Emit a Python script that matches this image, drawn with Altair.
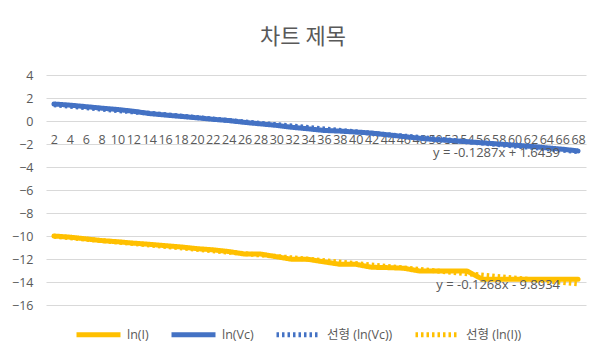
import altair as alt
import pandas as pd

# category labels on the horizontal axis
time_labels = [2, 4, 6, 8, 10, 12, 14, 16, 18, 20, 22, 24, 26, 28, 30, 32, 34,
               36, 38, 40, 42, 44, 46, 48, 50, 52, 54, 56, 58, 60, 62, 64, 66, 68]

# series values
ln_i = [-10.0, -10.1, -10.25, -10.4, -10.5, -10.62, -10.72, -10.84, -10.95, -11.1,
        -11.2, -11.35, -11.57, -11.57, -11.8, -12.03, -12.03, -12.25, -12.46, -12.46,
        -12.72, -12.75, -12.8, -13.04, -13.04, -13.04, -13.04, -13.77, -13.77, -13.77,
        -13.77, -13.77, -13.77, -13.77]
ln_vc = [1.48, 1.38, 1.25, 1.12, 1.0, 0.85, 0.65, 0.52, 0.4, 0.28,
         0.15, 0.04, -0.12, -0.25, -0.38, -0.55, -0.68, -0.82, -0.88, -0.96,
         -1.05, -1.2, -1.35, -1.5, -1.62, -1.7, -1.8, -1.9, -2.0, -2.1,
         -2.2, -2.33, -2.45, -2.6]

series_names = ["ln(I)", "ln(Vc)"]
trend_equations = ["y = -0.1268x - 9.8934", "y = -0.1287x + 1.6439"]
legend_order = ["ln(I)", "ln(Vc)", "선형 (ln(Vc))", "선형 (ln(I))"]
legend_colors = ["#FFC000", "#4472C4", "#4472C4", "#FFC000"]
y_ticks = [4, 2, 0, -2, -4, -6, -8, -10, -12, -14, -16]
title_text = "차트 제목"

rows = []
for name, eq, vals in zip(series_names, trend_equations, [ln_i, ln_vc]):
    for t, v in zip(time_labels, vals):
        rows.append({"t": t, "v": v, "series": name, "eq": eq})
df = pd.DataFrame(rows)

FONT = "Open Sans, Noto Sans CJK KR"
TXT = "#595959"
GRID = "#D9D9D9"

x_enc = alt.X(
    "t:Q",
    scale=alt.Scale(domain=[1, 69], nice=False, zero=False),
    axis=alt.Axis(values=time_labels, tickCount=len(time_labels), offset=-184,
                  domain=False, ticks=False, grid=False, labelPadding=12, title=None,
                  labelFlush=False, labelOverlap=False, labelFontSize=12.5,
                  labelColor=TXT, labelFont=FONT),
)
y_enc = alt.Y(
    "v:Q",
    scale=alt.Scale(domain=[-16, 4], nice=False),
    axis=alt.Axis(values=y_ticks, tickCount=len(y_ticks), domain=False, ticks=False,
                  grid=True, gridColor=GRID, gridWidth=1, labelPadding=13, title=None,
                  labelOverlap=False, labelFontSize=12.5, labelColor=TXT, labelFont=FONT),
)
color_enc = alt.Color("name:N", scale=alt.Scale(domain=legend_order, range=legend_colors), title=None)
dash_enc = alt.StrokeDash("name:N", scale=alt.Scale(domain=legend_order,
                          range=[[1, 0], [1, 0], [2.5, 3], [2.5, 3]]), title=None)
width_enc = alt.StrokeWidth("name:N", scale=alt.Scale(domain=legend_order,
                            range=[5, 5, 2.5, 2.5]), title=None)

base = alt.Chart(df)

lines = base.mark_line(strokeCap="round", strokeJoin="round").transform_calculate(
    name="datum.series"
).encode(x=x_enc, y=y_enc, color=color_enc, strokeDash=dash_enc, strokeWidth=width_enc,
         order="t:Q")

trends = base.transform_regression(
    "t", "v", groupby=["series", "eq"]
).transform_calculate(
    name="'선형 (' + datum.series + ')'"
).mark_line().encode(
    x="t:Q", y="v:Q", color=color_enc, strokeDash=dash_enc, strokeWidth=width_enc
)

labels = base.transform_regression(
    "t", "v", groupby=["series", "eq"]
).transform_filter("datum.t > 67").mark_text(
    align="right", baseline="middle", dx=-18, dy=1, fontSize=13, font=FONT, color=TXT
).encode(x="t:Q", y="v:Q", text="eq:N")

chart = alt.layer(lines, trends, labels).properties(
    width=540,
    height=230,
    padding={"left": 38, "top": 67, "right": 13, "bottom": 48},
    autosize=alt.AutoSizeParams(type="none"),
    background="white",
    title=alt.TitleParams(title_text, fontSize=22, font="Noto Sans CJK KR", color=TXT,
                          fontWeight="normal", anchor="middle", offset=20, dx=-13),
).configure_view(stroke=None).configure_legend(
    orient="none", legendX=28, legendY=235, direction="horizontal",
    symbolType="stroke", symbolSize=1936, labelOffset=4, columnPadding=12,
    labelFontSize=12.5, labelFont=FONT, labelColor=TXT, labelLimit=300,
)

chart.save("out.html", embed_options={"renderer": "svg", "actions": False})
